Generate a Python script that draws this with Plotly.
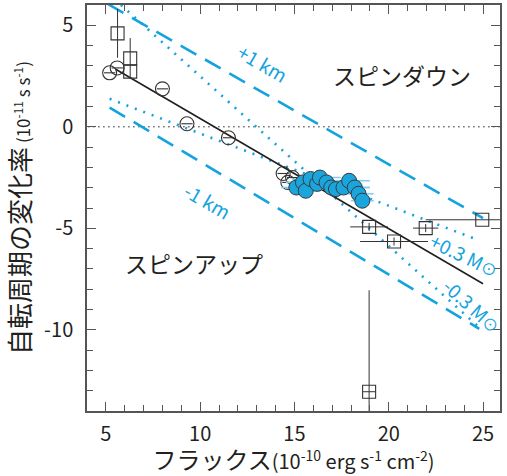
import plotly.graph_objects as go

FONT = "Noto Sans CJK JP"
BLUE = "#13a3de"
DARK = "#231f20"

# open circles (with small horizontal error bars)
circ_x = [5.2, 5.6, 8.0, 9.3, 11.5, 14.4, 14.9, 14.65]
circ_y = [2.66, 2.9, 1.87, 0.15, -0.54, -2.3, -2.5, -2.74]
circ_xerr = [0.3, 0.3, 0.3, 0.3, 0.3, 0.3, 0.3, 0.3]

# open squares
sq_x = [5.62, 6.29, 6.29, 18.96, 21.96, 24.96, 20.28, 18.96]
sq_y = [4.6, 3.37, 2.72, -4.93, -4.99, -4.58, -5.65, -13.05]
sq_xerr = [0, 0, 0, 1.0, 0.67, 3.0, 1.8, 0.32]
sq_yerr = [1.2, 1.0, 0, 0.2, 0.2, 0, 0.2, 5.0]

# filled circles
fc_x = [15.1, 15.45, 15.6, 15.85, 16.2, 16.35, 16.7, 16.95, 17.2, 17.6, 17.9, 18.2, 18.4, 18.6]
fc_y = [-2.99, -2.74, -3.15, -2.57, -2.81, -2.5, -2.74, -2.99, -3.07, -2.99, -2.66, -2.99, -3.3, -3.64]
fc_xerr = [0.8, 0.9, 0.8, 1.0, 1.0, 1.1, 1.2, 1.0, 1.3, 1.4, 1.1, 0.8, 0.8, 0.6]

# fitted line
fit_x = [5.5, 25.0]
fit_y = [2.85, -7.73]

# model curves
plus1km_x = [5.1, 25.0]
plus1km_y = [6.05, -4.5]
minus1km_x = [5.2, 24.8]
minus1km_y = [0.95, -9.95]
plusM_x = [5.2, 24.8]
plusM_y = [1.38, -5.6]
minusM_x = [5.8, 24.7]
minusM_y = [6.0, -9.8]

zero_x = [3.0, 27.0]
zero_y = [0, 0]

x_ticks = [5, 10, 15, 20, 25]
x_ticktext = ["5", "10", "15", "20", "25"]
y_ticks = [5, 0, -5, -10]
y_ticktext = ["5", "0", "-5", "-10"]

fig = go.Figure()

dash_style = dict(color=BLUE, width=2.6, dash="18px,10px")
dot_style = dict(color=BLUE, width=2.6, dash="2px,7px")

fig.add_trace(go.Scatter(x=zero_x, y=zero_y, mode="lines",
                         line=dict(color=DARK, width=1, dash="1.5px,3.5px")))
fig.add_trace(go.Scatter(x=plus1km_x, y=plus1km_y, mode="lines", line=dash_style))
fig.add_trace(go.Scatter(x=minus1km_x, y=minus1km_y, mode="lines", line=dash_style))
fig.add_trace(go.Scatter(x=plusM_x, y=plusM_y, mode="lines", line=dot_style))
fig.add_trace(go.Scatter(x=minusM_x, y=minusM_y, mode="lines", line=dot_style))
fig.add_trace(go.Scatter(x=fit_x, y=fit_y, mode="lines",
                         line=dict(color=DARK, width=1.6)))

fig.add_trace(go.Scatter(
    x=circ_x, y=circ_y, mode="markers",
    marker=dict(symbol="circle-open", size=14, color="#333333", line=dict(width=1.1)),
    error_x=dict(type="data", array=circ_xerr, color="#333333", thickness=1.1, width=0)))

fig.add_trace(go.Scatter(
    x=sq_x, y=sq_y, mode="markers",
    marker=dict(symbol="square-open", size=13, color="#333333", line=dict(width=1.1)),
    error_x=dict(type="data", array=sq_xerr, color="#333333", thickness=1.0, width=0),
    error_y=dict(type="data", array=sq_yerr, color="#333333", thickness=1.0, width=0)))

fig.add_trace(go.Scatter(
    x=fc_x, y=fc_y, mode="markers",
    marker=dict(symbol="circle", size=15, color="#1aa5dc", line=dict(color="#3a3a3a", width=1)),
    error_x=dict(type="data", array=fc_xerr, color="#7fd0f2", thickness=1.6, width=0)))

ann_font_blue = dict(family=FONT, size=19, color=BLUE)
ann_font_jp = dict(family=FONT, size=23, color=DARK)
sun = "<span style='font-size:16px'>⊙</span>"
annotations = [
    dict(x=13.3, y=3.15, text="+1 km", textangle=30, font=ann_font_blue),
    dict(x=10.4, y=-3.64, text="-1 km", textangle=30, font=ann_font_blue),
    dict(x=24.0, y=-6.3, text="+0.3 M" + sun, textangle=26, font=ann_font_blue),
    dict(x=24.45, y=-8.8, text="-0.3 M" + sun, textangle=42, font=ann_font_blue),
    dict(x=20.7, y=2.56, text="スピンダウン", font=ann_font_jp),
    dict(x=9.7, y=-6.7, text="スピンアップ", font=ann_font_jp),
]
for a in annotations:
    a.update(xref="x", yref="y", showarrow=False)

axis_common = dict(
    showgrid=False, zeroline=False, showline=True, linecolor="#555555", linewidth=1.5,
    mirror="ticks", ticks="inside", ticklen=9, tickwidth=1.3, tickcolor="#555555",
    tickfont=dict(family=FONT, size=20, color=DARK), automargin=False,
    minor=dict(dtick=1, ticks="inside", ticklen=6, tickwidth=1.2, tickcolor="#555555"),
)

fig.update_layout(
    width=507, height=476,
    margin=dict(l=87, r=7, t=5, b=65),
    plot_bgcolor="white", paper_bgcolor="white",
    showlegend=False,
    annotations=annotations,
    xaxis=dict(range=[4.0, 25.9], tickvals=x_ticks, ticktext=x_ticktext, ticklabelstandoff=4,
               title=dict(text="フラックス<span style='font-size:20px'>(10<sup>-10</sup> erg s<sup>-1</sup> cm<sup>-2</sup>)</span>",
                          font=dict(family=FONT, size=24, color=DARK), standoff=2),
               **axis_common),
    yaxis=dict(range=[-14.0, 6.0], tickvals=y_ticks, ticktext=y_ticktext, ticklabelstandoff=8,
               title=dict(text="自転周期の変化率<span style='font-size:17px'> (10<sup>-11</sup> s s<sup>-1</sup>)</span>",
                          font=dict(family=FONT, size=26, color=DARK), standoff=8),
               **axis_common),
)

fig.write_html("out.html", config={"displayModeBar": False},
               post_script="document.body.style.margin='0';document.body.style.overflow='hidden';")
